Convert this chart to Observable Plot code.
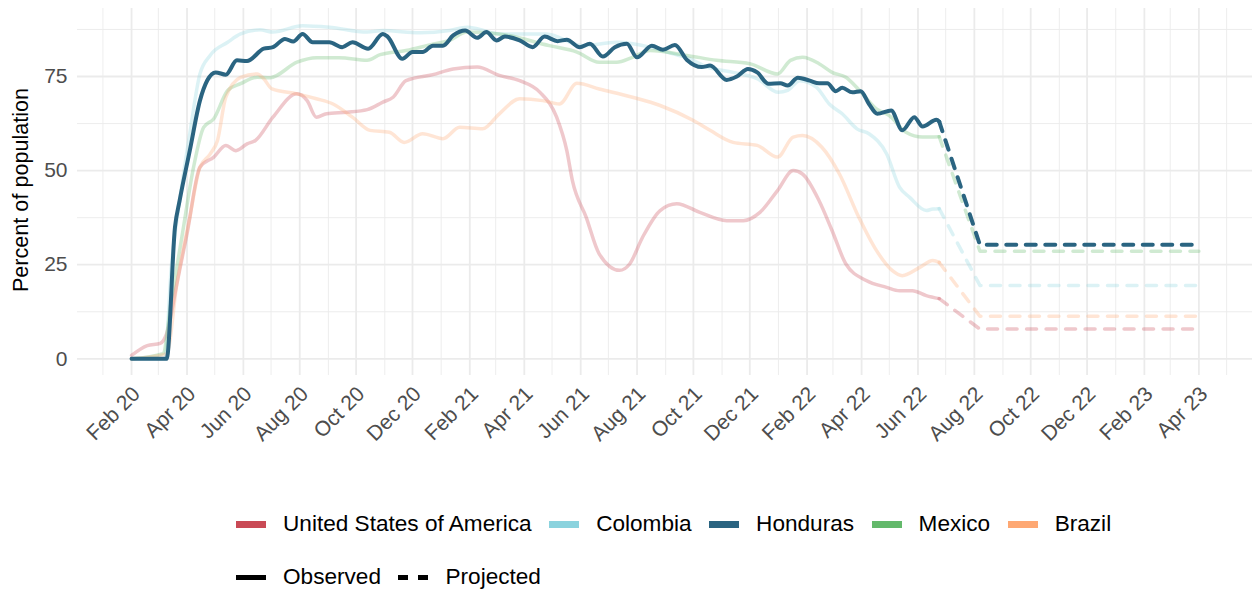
<!DOCTYPE html>
<html>
<head>
<meta charset="utf-8">
<script src="https://cdn.jsdelivr.net/npm/d3@7"></script>
<script src="https://cdn.jsdelivr.net/npm/@observablehq/plot@0.6"></script>
<style>
  html, body { margin: 0; padding: 0; background: #fff; overflow: hidden; }
  body { width: 1252px; height: 593px; position: relative; font-family: "Liberation Sans", Arial, sans-serif; }
  #chart { position: absolute; left: 0; top: 0; }
  .lrow { position: absolute; left: 236px; display: flex; align-items: center; height: 26px; font-size: 22.6px; color: #000; white-space: nowrap; }
  .sw { display: inline-block; width: 30px; margin-right: 17px; }
  .lab { margin-right: 17.5px; }
</style>
</head>
<body>
<div id="chart"></div>
<div class="lrow" id="row1" style="top:511px"></div>
<div class="lrow" id="row2" style="top:564px"></div>
<script>
// ---------- data ----------
const countries = ["United States of America", "Colombia", "Honduras", "Mexico", "Brazil"];
const countryColors = ["#c94a55", "#8bd3de", "#2a6481", "#63b96b", "#fea873"];
const highlighted = "Honduras";

const usaObserved = [
  ["2020-02-01",0.9],["2020-02-18",3.5],["2020-03-03",4.1],["2020-03-10",6.7],["2020-03-21",19.9],
  ["2020-04-01",33.2],["2020-04-15",50.9],["2020-04-30",53.6],["2020-05-13",56.7],["2020-05-24",55.3],
  ["2020-06-05",57.1],["2020-06-14",58],["2020-07-03",64.2],["2020-07-29",70.4],["2020-08-09",68.6],
  ["2020-08-19",64.2],["2020-08-30",65.1],["2020-09-21",65.5],["2020-10-13",66.2],["2020-10-30",68.2],
  ["2020-11-10",69.5],["2020-11-24",73.9],["2020-12-23",75.5],["2021-01-14",77],["2021-02-09",77.5],
  ["2021-03-05",75.3],["2021-03-27",73.9],["2021-04-18",70.8],["2021-05-06",64.2],["2021-05-17",55.3],
  ["2021-05-23",47.4],["2021-06-07",37.6],["2021-06-21",27.9],["2021-07-13",23.5],["2021-07-24",25.2],
  ["2021-08-07",32.3],["2021-08-26",39.4],["2021-09-13",41.2],["2021-10-08",38.9],["2021-11-06",36.7],
  ["2021-11-24",36.7],["2021-12-12",38.9],["2021-12-31",44.7],["2022-01-17",50],["2022-01-27",49.1],
  ["2022-02-14",42],["2022-02-28",34.1],["2022-03-15",25.2],["2022-04-06",20.8],["2022-04-28",19],
  ["2022-05-12",18.1],["2022-05-26",18.1],["2022-06-10",16.8],["2022-06-24",16.0]
];
const colombiaObserved = [
  ["2020-02-01",0],["2020-03-08",0],["2020-03-15",24.3],["2020-03-24",42],["2020-04-04",59.8],
  ["2020-04-15",75.7],["2020-04-26",80.6],["2020-05-15",84.1],["2020-05-29",86.3],["2020-06-19",87.4],
  ["2020-07-03",86.8],["2020-08-04",88.5],["2020-09-02",88.1],["2020-10-13",86.8],["2020-10-30",87.2],
  ["2020-12-09",86.6],["2021-01-10",87.2],["2021-01-29",88.1],["2021-02-09",87.7],["2021-03-05",86.3],
  ["2021-04-25",86.3],["2021-06-03",83.2],["2021-07-10",84.1],["2021-08-15",82.8],["2021-09-09",81],
  ["2021-09-24",80],["2021-10-16",77.5],["2021-11-13",76.1],["2021-12-09",74.4],["2022-01-01",70.8],
  ["2022-01-11",71.3],["2022-01-24",73.9],["2022-02-11",72.2],["2022-02-25",67.7],["2022-03-11",65.1],
  ["2022-03-27",61.1],["2022-04-09",59.8],["2022-04-28",54.5],["2022-05-12",45.6],["2022-05-23",42.9],
  ["2022-06-10",39.4],["2022-06-17",39.8],["2022-06-24",39.9]
];
const hondurasObserved = [
  ["2020-02-01",0],["2020-03-10",0],["2020-03-19",35],["2020-03-24",42],["2020-04-04",55.3],
  ["2020-04-15",68.6],["2020-04-23",74],["2020-05-02",76.1],["2020-05-13",75.5],["2020-05-25",79.3],
  ["2020-06-05",79.1],["2020-06-23",82.4],["2020-07-03",82.8],["2020-07-16",85],["2020-07-25",84.3],
  ["2020-08-04",86.3],["2020-08-15",84.1],["2020-09-02",84.1],["2020-09-16",82.8],["2020-09-27",84.1],
  ["2020-10-14",82.4],["2020-10-30",86.3],["2020-11-04",85.6],["2020-11-20",79.7],["2020-12-01",81.5],
  ["2020-12-12",81.5],["2020-12-23",83.2],["2021-01-03",83.2],["2021-01-14",85.9],["2021-01-27",87.2],
  ["2021-02-09",85.3],["2021-02-19",86.8],["2021-03-02",84.6],["2021-03-11",85.6],["2021-03-27",84.6],
  ["2021-04-10",82.8],["2021-04-23",85.6],["2021-05-07",84.4],["2021-05-17",84.8],["2021-05-31",82.8],
  ["2021-06-11",83.7],["2021-06-25",80.3],["2021-07-08",82.8],["2021-07-21",83.7],["2021-08-01",80.1],
  ["2021-08-17",83.2],["2021-08-29",82.1],["2021-09-11",83.4],["2021-09-24",79.4],["2021-10-10",77.5],
  ["2021-10-19",77.9],["2021-11-06",74.1],["2021-11-17",75],["2021-11-29",77],["2021-12-09",76.1],
  ["2021-12-21",73.1],["2022-01-03",73.2],["2022-01-11",72.6],["2022-01-22",74.7],["2022-02-04",73.9],
  ["2022-02-14",73.2],["2022-02-23",73.2],["2022-03-04",71.1],["2022-03-11",72],["2022-03-22",70.8],
  ["2022-03-31",71.1],["2022-04-09",67.7],["2022-04-18",65.1],["2022-05-03",66],["2022-05-15",60.7],
  ["2022-05-28",64.2],["2022-06-06",61.7],["2022-06-21",63.5],["2022-06-24",63.0]
];
const mexicoObserved = [
  ["2020-02-01",0],["2020-03-06",1.4],["2020-03-15",15.5],["2020-03-27",33.2],["2020-04-08",50.8],
  ["2020-04-19",61.5],["2020-04-30",63.8],["2020-05-15",71.3],["2020-05-29",73.1],["2020-06-16",74.8],
  ["2020-06-30",74.7],["2020-07-29",78.8],["2020-08-19",80],["2020-09-13",80],["2020-10-13",79.3],
  ["2020-10-27",80.8],["2020-11-24",81.9],["2020-12-23",83.6],["2021-01-10",84.6],["2021-01-29",86.8],
  ["2021-03-05",86.3],["2021-04-28",83.2],["2021-05-28",81.5],["2021-06-21",78.8],["2021-07-10",78.8],
  ["2021-07-27",80.1],["2021-08-15",81.9],["2021-09-24",80.6],["2021-10-26",79.3],["2021-12-01",78.4],
  ["2021-12-31",75.7],["2022-01-14",79.3],["2022-01-27",80.1],["2022-02-14",78.4],["2022-02-28",76.1],
  ["2022-03-15",74.8],["2022-03-29",71.5],["2022-04-17",66.4],["2022-05-01",64.6],["2022-05-19",60.2],
  ["2022-06-06",58.9],["2022-06-24",59.0]
];
const brazilObserved = [
  ["2020-02-01",0],["2020-03-10",1.3],["2020-03-21",19.9],["2020-04-04",37.6],["2020-04-15",50.9],
  ["2020-04-26",54.4],["2020-05-04",58],["2020-05-13",69.5],["2020-05-29",74.8],["2020-06-16",75.7],
  ["2020-06-23",74.4],["2020-07-02",71.7],["2020-07-29",70.4],["2020-08-19",69.1],["2020-09-06",67.7],
  ["2020-09-27",64.2],["2020-10-16",60.7],["2020-11-06",60.2],["2020-11-22",57.5],["2020-12-12",59.8],
  ["2021-01-03",58.5],["2021-01-21",61.5],["2021-02-15",61.1],["2021-03-05",65.1],["2021-03-27",69.1],
  ["2021-04-21",68.6],["2021-05-09",67.7],["2021-05-28",73.2],["2021-06-21",71.7],["2021-07-27",69.5],
  ["2021-08-26",67.3],["2021-10-01",63.3],["2021-10-19",60.7],["2021-11-13",57.5],["2021-12-09",56.7],
  ["2021-12-31",53.6],["2022-01-17",58.9],["2022-01-27",59.3],["2022-02-17",56.2],["2022-03-08",49.1],
  ["2022-03-29",37.6],["2022-04-17",28.8],["2022-05-04",23.5],["2022-05-15",22.1],["2022-06-03",24.3],
  ["2022-06-17",26.1],["2022-06-24",25.6]
];
const observedSeries = [usaObserved, colombiaObserved, hondurasObserved, mexicoObserved, brazilObserved];

// projection: drop to a level, then hold
const projectedLevels = [7.9, 19.5, 30.3, 28.6, 11.3];
const projectionBreakDate = "2022-08-07";
const projectionEndDate = "2023-04-01";

// axes
const yMajorTicks = [0, 25, 50, 75];
const yMinorTicks = [12.5, 37.5, 62.5, 87.5];
const xMajorTicks = ["2020-02-01","2020-04-01","2020-06-01","2020-08-01","2020-10-01","2020-12-01",
  "2021-02-01","2021-04-01","2021-06-01","2021-08-01","2021-10-01","2021-12-01",
  "2022-02-01","2022-04-01","2022-06-01","2022-08-01","2022-10-01","2022-12-01",
  "2023-02-01","2023-04-01"];
const xMinorTicks = ["2020-01-01","2020-03-01","2020-05-01","2020-07-01","2020-09-01","2020-11-01",
  "2021-01-01","2021-03-01","2021-05-01","2021-07-01","2021-09-01","2021-11-01",
  "2022-01-01","2022-03-01","2022-05-01","2022-07-01","2022-09-01","2022-11-01",
  "2023-01-01","2023-03-01","2023-05-01"];
const xDomain = ["2019-12-04T12:00", "2023-05-29"];
const yDomain = [-4.43, 93.07];
const yTitle = "Percent of population";
const linetypeLabels = ["Observed", "Projected"];

// ---------- build ----------
const parse = s => new Date(s.length > 10 ? s + "Z" : s + "T00:00Z");
const obsRows = [], projRows = [];
countries.forEach((c, i) => {
  const s = observedSeries[i];
  s.forEach(([d, v]) => obsRows.push({country: c, date: parse(d), value: v}));
  const last = s[s.length - 1];
  projRows.push({country: c, date: parse(last[0]), value: last[1]});
  projRows.push({country: c, date: parse(projectionBreakDate), value: projectedLevels[i]});
  projRows.push({country: c, date: parse(projectionEndDate), value: projectedLevels[i]});
});
const isHi = d => d.country === highlighted;

const plot = Plot.plot({
  width: 1252,
  height: 480,
  marginLeft: 77,
  marginRight: 0,
  marginTop: 8,
  marginBottom: 105,
  style: {fontFamily: "'Liberation Sans', Arial, sans-serif", background: "#fff"},
  x: {type: "utc", domain: xDomain.map(parse)},
  y: {domain: yDomain},
  color: {domain: countries, range: countryColors},
  marks: [
    Plot.ruleY(yMinorTicks, {stroke: "#ebebeb", strokeWidth: 0.9}),
    Plot.ruleX(xMinorTicks.map(parse), {stroke: "#ebebeb", strokeWidth: 0.9}),
    Plot.ruleY(yMajorTicks, {stroke: "#ebebeb", strokeWidth: 1.8}),
    Plot.ruleX(xMajorTicks.map(parse), {stroke: "#ebebeb", strokeWidth: 1.8}),
    Plot.line(obsRows.filter(d => !isHi(d)), {x: "date", y: "value", z: "country", stroke: "country",
      strokeOpacity: 0.3, strokeWidth: 3.5, curve: "monotone-x"}),
    Plot.line(projRows.filter(d => !isHi(d)), {x: "date", y: "value", z: "country", stroke: "country",
      strokeOpacity: 0.3, strokeWidth: 3.5, strokeDasharray: "10,9.5"}),
    Plot.line(obsRows.filter(isHi), {x: "date", y: "value", z: "country", stroke: "country",
      strokeWidth: 4, curve: "monotone-x"}),
    Plot.line(projRows.filter(isHi), {x: "date", y: "value", z: "country", stroke: "country",
      strokeWidth: 4, strokeDasharray: "10,9.5"}),
    Plot.axisY({ticks: yMajorTicks, tickSize: 0, tickPadding: 10, fontSize: 21, fill: "#4d4d4d", label: null}),
    Plot.axisX({ticks: xMajorTicks.map(parse), tickFormat: d3.utcFormat("%b %y"), tickRotate: -45,
      tickSize: 0, tickPadding: 15, dx: 5, fontSize: 21, fill: "#4d4d4d", label: null}),
    Plot.text([yTitle], {text: d => d, frameAnchor: "left", textAnchor: "middle", rotate: -90, dx: -56, dy: -2,
      fontSize: 21.6, fill: "#000"})
  ]
});
document.getElementById("chart").appendChild(plot);

// ---------- legend ----------
const row1 = document.getElementById("row1");
countries.forEach((c, i) => {
  const sw = document.createElement("span");
  sw.className = "sw";
  sw.style.height = "7px";
  sw.style.background = countryColors[i];
  const lab = document.createElement("span");
  lab.className = "lab";
  lab.textContent = c;
  row1.append(sw, lab);
});
const row2 = document.getElementById("row2");
linetypeLabels.forEach((t, i) => {
  const sw = document.createElement("span");
  sw.className = "sw";
  sw.style.height = "5px";
  sw.style.background = i === 0 ? "#000"
    : "linear-gradient(to right, #000 0 10px, transparent 10px 20px, #000 20px 30px)";
  const lab = document.createElement("span");
  lab.className = "lab";
  lab.textContent = t;
  row2.append(sw, lab);
});
</script>
</body>
</html>
